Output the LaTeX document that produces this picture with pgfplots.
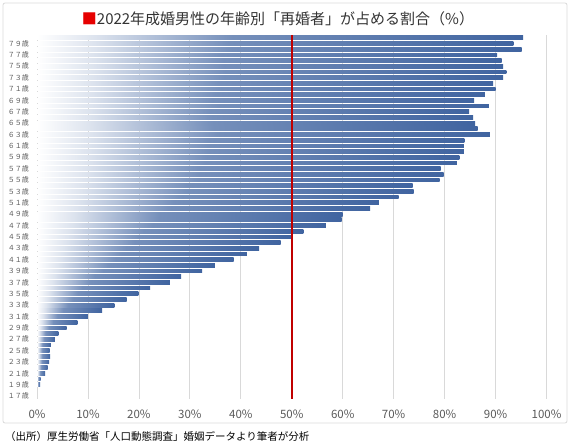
\documentclass[border=0pt]{standalone}
\usepackage{fontspec}
\setmainfont{Noto Sans CJK JP}
\usepackage{pgfplots}
\usepackage{pgfplotstable}
\pgfplotsset{compat=1.18}

\definecolor{barblue}{RGB}{64,100,160}
\definecolor{gridgray}{RGB}{217,217,217}
\definecolor{ticktext}{RGB}{89,89,89}
\definecolor{linered}{RGB}{192,0,0}
\definecolor{titlered}{RGB}{230,0,0}

% each bar: white at its left end, mid blue at 40% of its length, dark blue at the end
\pgfdeclarehorizontalshading{barfade}{100bp}{color(0bp)=(white); color(25bp)=(white); color(31bp)=(barblue!18); color(45bp)=(barblue!72); color(75bp)=(barblue); color(100bp)=(barblue)}

% share of remarriages among grooms by age, 2022
\pgfplotstableread{
age v
17 0
18 0
19 0.6
20 0.7
21 1.6
22 2.1
23 2.4
24 2.6
25 2.5
26 2.7
27 3.5
28 4.2
29 5.8
30 7.9
31 10.0
32 12.8
33 15.2
34 17.6
35 19.9
36 22.2
37 26.1
38 28.3
39 32.4
40 34.9
41 38.6
42 41.2
43 43.6
44 47.8
45 49.9
46 52.3
47 56.7
48 59.8
49 60.0
50 65.4
51 67.1
52 71.0
53 73.9
54 73.7
55 79.0
56 79.8
57 79.2
58 82.4
59 82.9
60 83.8
61 83.8
62 83.9
63 88.9
64 86.5
65 86.0
66 85.6
67 84.8
68 88.7
69 85.8
70 87.9
71 90.0
72 89.5
73 91.5
74 92.1
75 91.5
76 91.2
77 90.3
78 95.1
79 93.5
80 95.4
}\ratio

\begin{document}
\begin{tikzpicture}
\path[use as bounding box] (0,0) rectangle (570pt,446pt);
\draw[gridgray, line width=0.8pt, rounded corners=2pt] (3pt,23pt) rectangle (567pt,443pt);

\begin{axis}[
    at={(37pt,47pt)},
    anchor=south west,
    scale only axis,
    width=509.5pt,
    height=364pt,
    xmin=0, xmax=100,
    ymin=16.5, ymax=80.5,
    axis line style={draw=none},
    major tick length=0pt,
    xtick={0,10,...,100},
    xticklabels={0\%,10\%,20\%,30\%,40\%,50\%,60\%,70\%,80\%,90\%,100\%},
    xticklabel style={font=\fontsize{11.5}{12}\selectfont, text=ticktext, anchor=center, yshift=-15pt},
    ytick={17,19,...,79},
    yticklabels={１７歳,１９歳,２１歳,２３歳,２５歳,２７歳,２９歳,３１歳,３３歳,３５歳,３７歳,３９歳,４１歳,４３歳,４５歳,４７歳,４９歳,５１歳,５３歳,５５歳,５７歳,５９歳,６１歳,６３歳,６５歳,６７歳,６９歳,７１歳,７３歳,７５歳,７７歳,７９歳},
    yticklabel style={font=\fontsize{7}{8}\selectfont, text=ticktext, anchor=east, inner sep=0pt, xshift=-8pt},
    xmajorgrids=true,
    grid style={gridgray, line width=0.8pt},
]
    % one plot per bar so that every bar gets its own fade
    \pgfplotsinvokeforeach{19,...,80}{
        \addplot[xbar, bar width=3.8pt, bar shift=0pt, draw=none, shade, shading=barfade,
            y filter/.expression={abs(y-#1)<0.1 ? y : nan}]
            table[x=v, y=age] {\ratio};
    }

    \addplot[linered, line width=2pt, sharp plot, no marks]
        coordinates {(50,16.5) (50,80.5)};
\end{axis}

\node[anchor=center, text=black!80, font=\fontsize{15}{16}\selectfont] at (278pt,427pt)
    {\textcolor{titlered}{■}2022年成婚男性の年齢別「再婚者」が占める割合（\%）};
\node[anchor=west, inner sep=0pt, font=\fontsize{10.5}{11}\selectfont] at (5pt,9pt)
    {（出所）厚生労働省「人口動態調査」婚姻データより筆者が分析};
\end{tikzpicture}
\end{document}
